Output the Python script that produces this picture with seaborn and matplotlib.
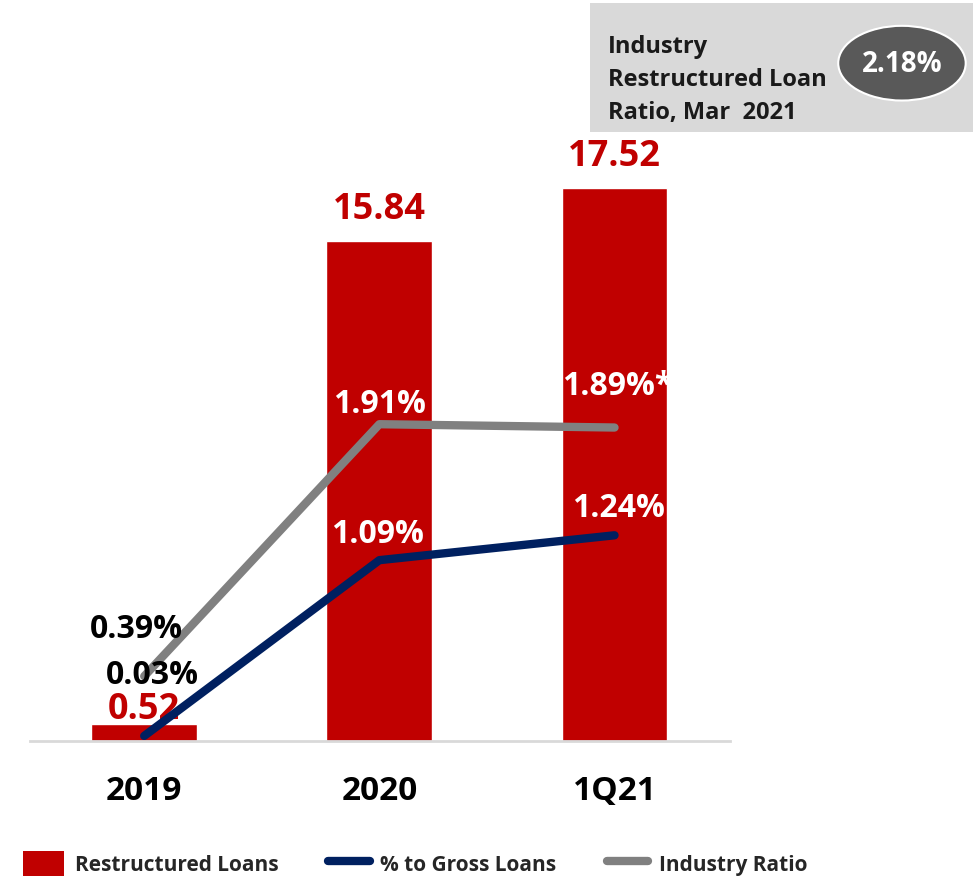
import matplotlib
matplotlib.use("Agg")
import matplotlib.pyplot as plt
from matplotlib.patches import Rectangle, Ellipse, Patch
from matplotlib.lines import Line2D
from matplotlib.transforms import Bbox, TransformedBbox
import seaborn as sns
import pandas as pd
import numpy as np

# ---- data ----
periods = ["2019", "2020", "1Q21"]
restructured_loans = [0.52, 15.84, 17.52]          # IDR tn
pct_to_gross_loans = [0.03, 1.09, 1.24]            # %
industry_ratio = [0.39, 1.91, 1.89]                # %
industry_ratio_marks = ["", "", "*"]
industry_mar21 = 2.18                              # %

RED = "#c00000"
NAVY = "#002060"
GREY = "#808080"
FONT = ["Open Sans", "DejaVu Sans"]

sns.set_theme(style="white")
plt.rcParams["font.family"] = FONT
plt.rcParams["font.weight"] = "bold"

df = pd.DataFrame({
    "period": periods,
    "pos": np.arange(len(periods)),
    "loans": restructured_loans,
    "pct": pct_to_gross_loans,
    "industry": industry_ratio,
})

fig = plt.figure(figsize=(9.73, 8.79), dpi=100)
ax = fig.add_axes([0.031, 0.156, 0.719, 0.696])

sns.barplot(data=df, x="pos", y="loans", color=RED, width=0.45,
            saturation=1, ax=ax, native_scale=True)
ax.set_xlim(-0.485, 2.49)
ax.set_ylim(0, 19.37)
ax.set_xticks(df["pos"])
ax.set_xticklabels(periods, fontsize=24, fontweight="bold", color="black")
ax.tick_params(axis="x", length=0, pad=24)
ax.set_yticks([])
ax.set_xlabel("")
ax.set_ylabel("")
for side in ["top", "right", "left"]:
    ax.spines[side].set_visible(False)
ax.spines["bottom"].set_color("#d9d9d9")
ax.spines["bottom"].set_linewidth(2)

# bar value labels
bar_offsets = [11, 23, 23]
for i, v in enumerate(restructured_loans):
    ax.annotate(f"{v:.2f}", (i, v), xytext=(0, bar_offsets[i]),
                textcoords="offset points", ha="center", va="center",
                fontsize=26, fontweight="bold", color=RED, zorder=5)

# ratios on a secondary axis
ax2 = ax.twinx()
ax2.set_ylim(0, 3.69)
sns.lineplot(data=df, x="pos", y="industry", color=GREY, linewidth=6,
             solid_capstyle="round", ax=ax2, zorder=3)
sns.lineplot(data=df, x="pos", y="pct", color=NAVY, linewidth=6,
             solid_capstyle="round", ax=ax2, zorder=4)
ax2.set_yticks([])
ax2.set_ylabel("")
ax2.set_xlabel("")
for side in ax2.spines:
    ax2.spines[side].set_visible(False)
ax2.set_xlim(ax.get_xlim())


def bar_clip(i):
    # clip a label at the right edge of its bar
    return TransformedBbox(Bbox([[-1, -1], [i + 0.225, 19.37]]), ax.transData)


# industry ratio labels
ind_offsets = [(-6, 34), (0, 15), (2, 30)]
ind_colors = ["black", "white", "white"]
for i, v in enumerate(industry_ratio):
    t = ax2.annotate(f"{v:.2f}%{industry_ratio_marks[i]}", (i, v),
                     xytext=ind_offsets[i], textcoords="offset points",
                     ha="center", va="center", fontsize=23, fontweight="bold",
                     color=ind_colors[i], zorder=6)
    if i == 2:
        t.set_clip_box(bar_clip(i))
        t.set_clip_on(True)

# % to gross loans labels
pct_offsets = [(6, 44), (-1, 19), (3, 20)]
pct_colors = ["black", "white", "white"]
for i, v in enumerate(pct_to_gross_loans):
    t = ax2.annotate(f"{v:.2f}%", (i, v), xytext=pct_offsets[i],
                     textcoords="offset points", ha="center", va="center",
                     fontsize=23, fontweight="bold", color=pct_colors[i],
                     zorder=6)
    if i == 2:
        t.set_clip_box(bar_clip(i))
        t.set_clip_on(True)

# industry benchmark box
fig.patches.append(Rectangle((0.606, 0.849), 0.394, 0.146,
                             transform=fig.transFigure, facecolor="#d9d9d9",
                             edgecolor="none", zorder=0))
fig.text(0.625, 0.909, "Industry\nRestructured Loan\nRatio, Mar  2021",
         ha="left", va="center", fontsize=17, fontweight="bold",
         color="#1a1a1a", linespacing=1.5)
fig.patches.append(Ellipse((0.927, 0.927), 0.131, 0.085,
                           transform=fig.transFigure, facecolor="#595959",
                           edgecolor="white", linewidth=1.5, zorder=1))
fig.text(0.927, 0.927, f"{industry_mar21:.2f}%", ha="center", va="center",
         fontsize=20, fontweight="bold", color="white")

# legend
handles = [
    Patch(facecolor=RED, edgecolor="none", label="Restructured Loans"),
    Line2D([0], [0], color=NAVY, linewidth=6, label="% to Gross Loans"),
    Line2D([0], [0], color=GREY, linewidth=6, label="Industry Ratio"),
]
leg = fig.legend(handles=handles, loc="lower left",
                 bbox_to_anchor=(0.004, -0.019), ncol=3, frameon=False,
                 prop={"family": FONT, "weight": "bold", "size": 15},
                 handlelength=2.0, handleheight=1.45, handletextpad=0.5,
                 columnspacing=2.4)

fig.savefig("out.png", dpi=100)
